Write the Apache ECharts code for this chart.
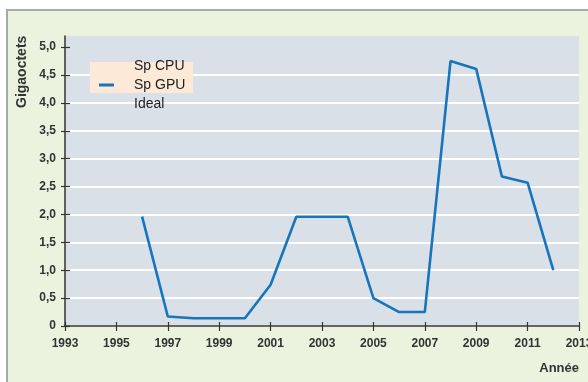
<!DOCTYPE html>
<html>
<head>
<meta charset="utf-8">
<script src="https://cdn.jsdelivr.net/npm/echarts@6/dist/echarts.min.js"></script>
<style>
  html, body { margin: 0; padding: 0; background: #ffffff; overflow: hidden; }
  #wrap { position: relative; width: 588px; height: 382px; background: #ffffff; overflow: hidden; }
  #chart { position: absolute; left: 6px; top: 9px; width: 580px; height: 371px;
           border-top: 2px solid #a3abab; border-left: 2px solid #a3abab; background: #ebf3de; }
</style>
</head>
<body>
<div id="wrap"><div id="chart"></div></div>
<script>
// Transfer volume per year (gigaoctets)
const years = [1996, 1997, 1998, 1999, 2000, 2001, 2002, 2003, 2004, 2005, 2006, 2007, 2008, 2009, 2010, 2011, 2012];
const spGpu = [1.96, 0.17, 0.14, 0.14, 0.14, 0.74, 1.96, 1.96, 1.96, 0.50, 0.25, 0.25, 4.75, 4.61, 2.68, 2.57, 1.00];
const spCpu = [];
const ideal = [];

// Axis ticks
const xTicks = [1993, 1995, 1997, 1999, 2001, 2003, 2005, 2007, 2009, 2011, 2013];
const yTicks = [0, 0.5, 1.0, 1.5, 2.0, 2.5, 3.0, 3.5, 4.0, 4.5, 5.0];

const ink = '#333333';
const family = '"Liberation Sans", Arial, sans-serif';
const labelFont = { fontFamily: family, fontWeight: 'bold', fontSize: 12, color: ink };
const fmtY = v => (v === 0 ? '0' : v.toFixed(1).replace('.', ','));

const chart = echarts.init(document.getElementById('chart'), null, { renderer: 'canvas', width: 580, height: 371 });

chart.setOption({
  backgroundColor: '#ebf3de',
  animation: false,
  grid: {
    left: 57, right: 9, top: 25, bottom: 56,
    outerBoundsMode: 'none', containLabel: false,
    show: true, backgroundColor: '#d9e0e7', borderWidth: 0
  },
  xAxis: [
    {
      type: 'value', min: 1993, max: 2013,
      name: 'Année', nameLocation: 'end', nameGap: 0,
      nameTextStyle: { fontFamily: family, fontWeight: 'bold', fontSize: 13, color: ink,
                       align: 'right', verticalAlign: 'top', padding: [36, 0, 0, 0] },
      axisLine: { show: true, onZero: false, lineStyle: { color: ink, width: 1.5 } },
      axisTick: { show: true, length: 5, customValues: xTicks, lineStyle: { color: ink, width: 1.2 } },
      axisLabel: Object.assign({ margin: 12, customValues: xTicks, formatter: v => String(v), hideOverlap: false }, labelFont),
      splitLine: { show: false }
    },
    {
      type: 'value', min: 1993, max: 2013, position: 'bottom',
      axisLine: { show: false },
      axisTick: { show: true, inside: true, length: 4, customValues: xTicks, lineStyle: { color: ink, width: 1.2 } },
      axisLabel: { show: false },
      splitLine: { show: false }
    }
  ],
  yAxis: [
    {
      type: 'value', min: 0, max: 5.2,
      axisLine: { show: true, onZero: false, lineStyle: { color: ink, width: 1.5 } },
      axisTick: { show: true, length: 4, customValues: yTicks, lineStyle: { color: ink, width: 1.2 } },
      axisLabel: Object.assign({ margin: 9, customValues: yTicks, formatter: fmtY }, labelFont),
      splitLine: { show: true, showMaxLine: false, lineStyle: { color: '#ffffff', width: 2 } }
    },
    {
      type: 'value', min: 0, max: 5.2, position: 'left',
      axisLine: { show: false },
      axisTick: { show: true, inside: true, length: 5, customValues: yTicks, lineStyle: { color: ink, width: 1.2 } },
      axisLabel: { show: false },
      splitLine: { show: false }
    }
  ],
  legend: {
    orient: 'vertical', left: 91, top: 47, padding: 0,
    itemWidth: 15, itemHeight: 3, itemGap: 3,
    textStyle: { fontFamily: family, fontSize: 14, lineHeight: 16, color: '#222222', padding: [0, 0, 0, 15] },
    data: [
      { name: 'Sp CPU', icon: 'rect' },
      { name: 'Sp GPU', icon: 'rect' },
      { name: 'Ideal', icon: 'rect' }
    ]
  },
  graphic: [
    { type: 'rect', z: 3, silent: true, shape: { x: 82, y: 51, width: 103, height: 31 }, style: { fill: '#fde9d7' } },
    { type: 'text', z: 5, silent: true, x: 14, y: 97, rotation: Math.PI / 2,
      style: { text: 'Gigaoctets', fill: ink, font: 'bold 14px "Liberation Sans", Arial, sans-serif',
               textAlign: 'left', textVerticalAlign: 'middle' } }
  ],
  series: [
    { name: 'Sp CPU', type: 'line', symbol: 'none', data: spCpu, color: 'rgba(0,0,0,0)' },
    {
      name: 'Sp GPU', type: 'line', symbol: 'none', color: '#1874bb',
      lineStyle: { width: 2.6, color: '#1874bb' },
      data: years.map((y, i) => [y, spGpu[i]])
    },
    { name: 'Ideal', type: 'line', symbol: 'none', data: ideal, color: 'rgba(0,0,0,0)' }
  ]
});
</script>
</body>
</html>
